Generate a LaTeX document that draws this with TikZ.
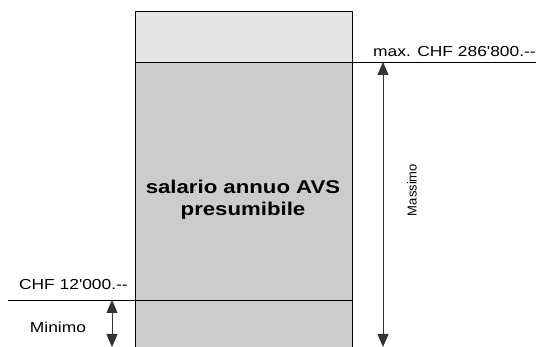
\documentclass[tikz,border=0pt]{standalone}
\usepackage{fontspec}
\setmainfont{Liberation Sans}
\newfontfamily\widesans[FakeStretch=1.2]{Liberation Sans}
\usepackage{xcolor}
\usetikzlibrary{arrows.meta,positioning}
\definecolor{avslight}{HTML}{E5E5E5}
\definecolor{avsgray}{HTML}{CCCCCC}

\begin{document}
\begin{tikzpicture}[
  x=1pt, y=-1pt,
  rule/.style={draw=black, line width=0.8pt},
  lbl/.style={font=\widesans\fontsize{14.5}{16}\selectfont, inner sep=0pt},
  span/.style={draw=black!80, line width=0.8pt, {Triangle[width=11pt,length=13pt]}-{Triangle[width=11pt,length=13pt]}},
  >=Stealth
]
  \useasboundingbox (0,0) rectangle (536,347);

  % Salary column
  \fill[avslight] (135,11) rectangle (352,62);
  \fill[avsgray] (135,62) rectangle (352,347);
  \draw[rule] (135,347) -- (135,11) -- (352,11) -- (352,347);

  % Limits
  \coordinate (maxL) at (135,62);
  \coordinate (maxR) at (536,62);
  \coordinate (minL) at (8,300);
  \coordinate (minR) at (352,300);
  \draw[rule] (maxL) -- (maxR);
  \draw[rule] (minL) -- (minR);

  \node[font=\widesans\bfseries\fontsize{18.5}{22}\selectfont, align=center] (salary) at (243,200) {salario annuo AVS\\presumibile};

  \node[lbl, anchor=west] (maxlbl) at (373,52) {max. CHF 286'800.--};
  \node[lbl, anchor=east] (minlbl) at (128,285) {CHF 12'000.--};

  % Spans
  \coordinate (maxTop) at (383,62);
  \coordinate (maxBot) at (383,347);
  \draw[span] (maxTop) -- (maxBot);
  \node[font=\fontsize{13}{15}\selectfont, rotate=90, inner sep=0pt] (massimo) at (412,190) {Massimo};

  \coordinate (minTop) at (112,300);
  \coordinate (minBot) at (112,347);
  \draw[span] (minTop) -- (minBot);
  \node[lbl] (minimo) at (58,327) {Minimo};

\end{tikzpicture}
\end{document}
